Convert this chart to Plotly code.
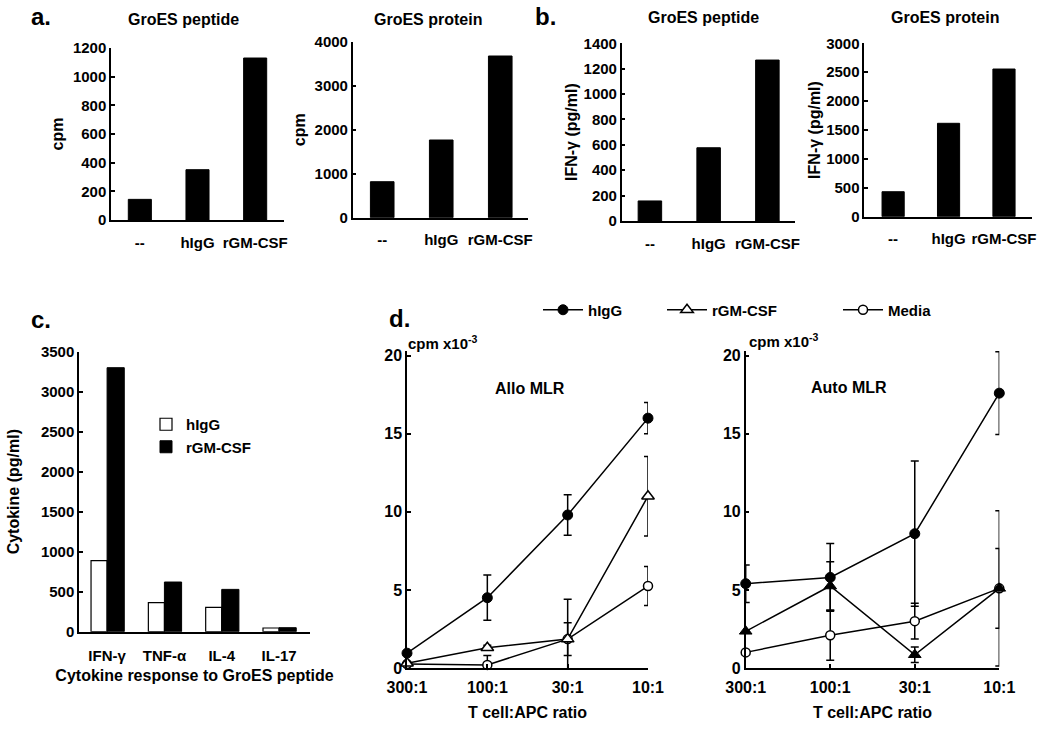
import plotly.graph_objects as go

W, H = 1050, 733

# ---------------- data ----------------
treat_cats = ["--", "hIgG", "rGM-CSF"]
a_peptide_cpm = [144, 351, 1130]
a_protein_cpm = [818, 1766, 3675]
b_peptide_ifn = [158, 577, 1268]
b_protein_ifn = [432, 1616, 2555]

cyto_cats = ["IFN-γ", "TNF-α", "IL-4", "IL-17"]
cyto_higg = [888, 363, 304, 46]
cyto_rgm = [3300, 621, 529, 50]

ratio_cats = ["300:1", "100:1", "30:1", "10:1"]
allo_higg = [0.95, 4.5, 9.8, 16.0]
allo_higg_err = [0.0, 1.45, 1.3, 1.0]
allo_rgm = [0.3, 1.3, 1.85, 11.0]
allo_rgm_err = [0.0, 0.15, 2.55, 2.55]
allo_media = [0.25, 0.2, 1.85, 5.25]
allo_media_err = [0.0, 0.6, 1.05, 1.25]

auto_higg = [5.4, 5.8, 8.6, 17.6]
auto_higg_err = [1.2, 2.17, 4.65, 2.65]
auto_rgm = [2.35, 5.25, 0.85, 5.1]
auto_rgm_err = [0.0, 1.55, 0.5, 4.97]
auto_media = [1.0, 2.1, 3.0, 5.1]
auto_media_err = [0.0, 1.6, 1.15, 2.55]

FONT = "Liberation Sans, Arial, sans-serif"


def px(x):
    return x / W


def py(y):
    return 1 - y / H


def xd(a, b):
    return [px(a), px(b)]


def yd(top, bottom):
    return [py(bottom), py(top)]


def f(size):
    return dict(family=FONT, size=size, color="black", weight="bold")


fig = go.Figure()

# ---------------- bar panels a / b ----------------
bar_panels = [
    ("x", "y", a_peptide_cpm),
    ("x2", "y2", a_protein_cpm),
    ("x3", "y3", b_peptide_ifn),
    ("x4", "y4", b_protein_ifn),
]
for xa, ya, vals in bar_panels:
    fig.add_trace(go.Bar(x=treat_cats, y=vals, xaxis=xa, yaxis=ya, width=0.4,
                         marker=dict(color="black", line=dict(color="black", width=1)),
                         showlegend=False))

# ---------------- panel c ----------------
fig.add_trace(go.Bar(x=cyto_cats, y=cyto_higg, xaxis="x5", yaxis="y5", name="hIgG",
                     width=0.28, offset=-0.28,
                     marker=dict(color="white", line=dict(color="black", width=1.2)),
                     legend="legend2"))
fig.add_trace(go.Bar(x=cyto_cats, y=cyto_rgm, xaxis="x5", yaxis="y5", name="rGM-CSF",
                     width=0.3, offset=0.0,
                     marker=dict(color="black", line=dict(color="black", width=1)),
                     legend="legend2"))

# ---------------- panel d ----------------
def err(a):
    return dict(type="data", array=a, visible=True, color="black", thickness=1.5, width=4)


line_style = dict(color="black", width=1.5)
# Allo
fig.add_trace(go.Scatter(x=ratio_cats, y=allo_media, error_y=err(allo_media_err), xaxis="x6", yaxis="y6",
                         mode="lines+markers", name="Media", legend="legend5", line=line_style, cliponaxis=False,
                         marker=dict(symbol="circle", size=9, color="white", line=dict(color="black", width=1.5))))
fig.add_trace(go.Scatter(x=ratio_cats, y=allo_rgm, error_y=err(allo_rgm_err), xaxis="x6", yaxis="y6",
                         mode="lines+markers", name="rGM-CSF", legend="legend4", line=line_style, cliponaxis=False,
                         marker=dict(symbol="triangle-up", size=11, color="white", line=dict(color="black", width=1.5))))
fig.add_trace(go.Scatter(x=ratio_cats, y=allo_higg, error_y=err(allo_higg_err), xaxis="x6", yaxis="y6",
                         mode="lines+markers", name="hIgG", legend="legend3", line=line_style, cliponaxis=False,
                         marker=dict(symbol="circle", size=10, color="black", line=dict(color="black", width=1))))
# Auto
fig.add_trace(go.Scatter(x=ratio_cats, y=auto_media, error_y=err(auto_media_err), xaxis="x7", yaxis="y7",
                         mode="lines+markers", showlegend=False, line=line_style, cliponaxis=False,
                         marker=dict(symbol="circle", size=9, color="white", line=dict(color="black", width=1.5))))
fig.add_trace(go.Scatter(x=ratio_cats, y=auto_rgm, error_y=err(auto_rgm_err), xaxis="x7", yaxis="y7",
                         mode="lines+markers", showlegend=False, line=line_style, cliponaxis=False,
                         marker=dict(symbol="triangle-up", size=11, color="black", line=dict(color="black", width=1))))
fig.add_trace(go.Scatter(x=ratio_cats, y=auto_higg, error_y=err(auto_higg_err), xaxis="x7", yaxis="y7",
                         mode="lines+markers", showlegend=False, line=line_style, cliponaxis=False,
                         marker=dict(symbol="circle", size=10, color="black", line=dict(color="black", width=1))))

# ---------------- axes ----------------
def xaxis(dom, rng, anchor, size=15, standoff=10, ticks="", **kw):
    return dict(domain=dom, range=rng, anchor=anchor, showline=True, linecolor="black", linewidth=1.5,
                showgrid=False, zeroline=False, ticks=ticks, ticklen=4, tickwidth=1.5, tickcolor="black",
                tickfont=f(size), automargin=False,
                ticklabelstandoff=standoff, fixedrange=True, **kw)


def yaxis(dom, rng, anchor, dtick, title=None, size=15, standoff=None, **kw):
    d = dict(domain=dom, range=rng, anchor=anchor, showline=True, linecolor="black", linewidth=1.5,
             showgrid=False, zeroline=False, ticks="inside", ticklen=4, tickwidth=1.5, tickcolor="black",
             dtick=dtick, tickfont=f(size), automargin=False, fixedrange=True, **kw)
    if title:
        t = dict(text=title, font=f(16))
        if standoff is not None:
            t["standoff"] = standoff
        d["title"] = t
    return d


fig.update_layout(
    xaxis=xaxis(xd(111, 284), [-0.5, 2.5], "y", standoff=8),
    yaxis=yaxis(yd(48, 220), [0, 1200], "x", 200, "cpm", standoff=5),
    xaxis2=xaxis(xd(352.7, 528), [-0.5, 2.47], "y2", standoff=8),
    yaxis2=yaxis(yd(41.7, 217.7), [0, 4000], "x2", 1000, "cpm", standoff=5),
    xaxis3=xaxis(xd(621.7, 795), [-0.48, 2.47], "y3", standoff=8),
    yaxis3=yaxis(yd(43.3, 221), [0, 1400], "x3", 200, "IFN-γ (pg/ml)", standoff=2),
    xaxis4=xaxis(xd(864.3, 1031.7), [-0.52, 2.5], "y4", standoff=8),
    yaxis4=yaxis(yd(43.3, 216.7), [0, 3000], "x4", 500, "IFN-γ (pg/ml)", standoff=2),
    xaxis5=xaxis(xd(79, 310), [-0.49, 3.54], "y5", standoff=10,
                 title=dict(text="Cytokine response to GroES peptide", font=f(16), standoff=6)),
    yaxis5=yaxis(yd(351.7, 631.7), [0, 3500], "x5", 500, "Cytokine (pg/ml)", standoff=17),
    xaxis6=xaxis(xd(407, 648), [0, 3], "y6", size=16, standoff=4, ticks="inside",
                 title=dict(text="T cell:APC ratio", font=f(16), standoff=12)),
    yaxis6=yaxis(yd(351.0, 668), [0, 20.3], "x6", 5, size=16),
    xaxis7=xaxis(xd(745.7, 999.3), [0, 3], "y7", size=16, standoff=4, ticks="inside",
                 title=dict(text="T cell:APC ratio", font=f(16), standoff=12)),
    yaxis7=yaxis(yd(351.0, 668), [0, 20.3], "x7", 5, size=16),
)

# ---------------- annotations ----------------
ann = []


def text(s, x, y, size=16, xanchor="center"):
    ann.append(dict(text=s, x=px(x), y=py(y), xref="paper", yref="paper", showarrow=False,
                    xanchor=xanchor, yanchor="middle", font=f(size)))


text("a.", 29, 16, 24, "left")
text("b.", 533, 17, 24, "left")
text("c.", 29, 320, 24, "left")
text("d.", 387, 318, 24, "left")
text("GroES peptide", 183, 20)
text("GroES protein", 428, 20)
text("GroES peptide", 703, 18)
text("GroES protein", 945, 18)
text("Allo MLR", 530, 388)
text("Auto MLR", 849, 387)
text("cpm x10<sup>-3</sup>", 406, 342, 15, "left")
text("cpm x10<sup>-3</sup>", 747, 340, 15, "left")


def leg(x, y, size=15, iw=40):
    return dict(orientation="v", x=px(x), y=py(y), xanchor="left", yanchor="middle",
                font=f(size), itemwidth=iw, bgcolor="rgba(0,0,0,0)", tracegroupgap=0)


fig.update_layout(
    annotations=ann,
    template="none",
    width=W, height=H,
    margin=dict(l=0, r=0, t=0, b=0),
    plot_bgcolor="white", paper_bgcolor="white",
    barmode="overlay",
    hovermode=False,
    font=f(15),
    legend2=leg(146, 435.5, 15, 30),
    legend3=leg(538, 310),
    legend4=leg(662, 310),
    legend5=leg(838, 310),
)

fig.write_html("out.html", config={"displayModeBar": False},
               post_script="document.body.style.margin='0px';document.body.style.overflow='hidden';")
